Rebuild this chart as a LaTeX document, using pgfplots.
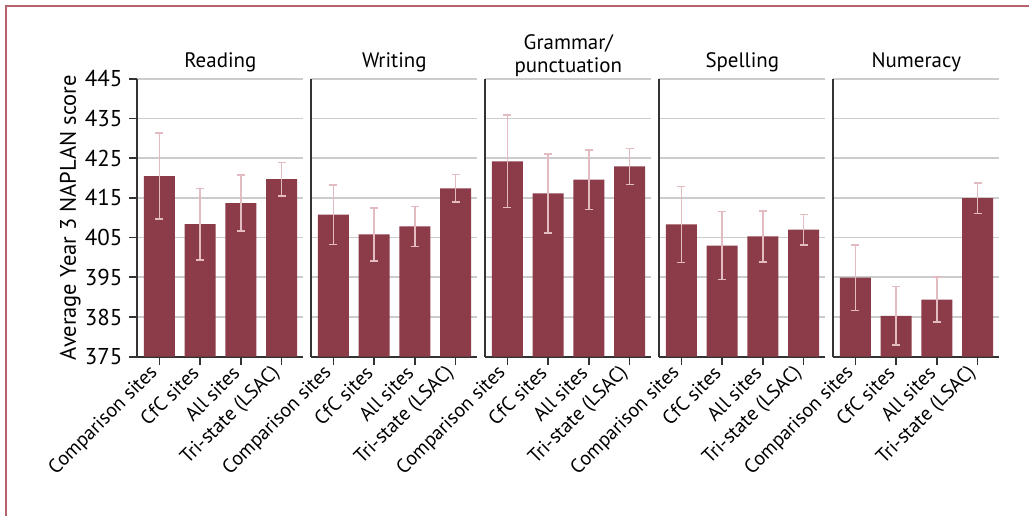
\documentclass[border=0pt]{standalone}
\usepackage{fontspec}
\setmainfont{PT Sans}
\usepackage{pgfplots}
\usepackage{pgfplotstable}
\pgfplotsset{compat=1.18}

\definecolor{barred}{RGB}{140,59,72}
\definecolor{errpink}{RGB}{226,188,192}
\definecolor{framered}{RGB}{181,100,110}

% x = category, y = mean, e = half width of interval
\pgfplotstableread{
x y e
0 420.5 10.8
1 408.4 9.0
2 413.7 7.0
3 419.7 4.2
}\reading
\pgfplotstableread{
x y e
0 410.8 7.5
1 405.8 6.7
2 407.8 5.0
3 417.4 3.5
}\writing
\pgfplotstableread{
x y e
0 424.2 11.6
1 416.1 10.0
2 419.6 7.5
3 422.9 4.5
}\grammar
\pgfplotstableread{
x y e
0 408.3 9.6
1 403.0 8.6
2 405.3 6.4
3 407.0 3.8
}\spelling
\pgfplotstableread{
x y e
0 394.9 8.3
1 385.3 7.4
2 389.4 5.6
3 414.9 3.8
}\numeracy

\pgfplotsset{
  panel/.style={
    scale only axis, width=83bp, height=139bp,
    anchor=south west,
    xmin=-0.545, xmax=3.535, ymin=375, ymax=445,
    ytick={375,385,...,445},
    xtick={0,1,2,3},
    xticklabels={Comparison sites, CfC sites, All sites, Tri-state (LSAC)},
    xticklabel style={rotate=45, anchor=east, font=\fontsize{10}{12}\selectfont},
    yticklabel style={font=\fontsize{11.5}{12}\selectfont},
    /pgf/number format/assume math mode=true,
    axis x line*=bottom, axis y line*=left,
    axis line style={draw=black!80, line width=0.9bp, -},
    ymajorgrids, grid style={black!20, line width=0.9bp},
    tick style={black!80, line width=0.8bp},
    tick align=outside, major tick length=4bp,
    ybar, bar width=15.5bp, bar shift=0pt,
    every axis title shift=0pt,
    title style={anchor=south, at={(0.5,1)}, yshift=3.35bp, inner sep=0pt,
      align=center, font=\fontsize{10.5}{11.5}\selectfont},
  },
  inner/.style={yticklabels={}, ytick style={draw=none}},
  bars/.style={fill=barred, draw=none,
    error bars/.cd, y dir=both, y explicit,
    error bar style={errpink, line width=0.8bp},
    error mark options={errpink, rotate=90, mark size=2bp, line width=0.8bp}},
}

\begin{document}
\begin{tikzpicture}
\begin{axis}[panel, at={(0,0)}, title={Reading},
  ylabel={Average Year 3 NAPLAN score},
  ylabel style={at={(axis description cs:-0.404,0.5)}, anchor=center,
    font=\fontsize{11.3}{12}\selectfont}]
  \addplot[bars] table[x=x, y=y, y error=e] {\reading};
\end{axis}
\begin{axis}[panel, inner, at={(87bp,0)}, title={Writing}]
  \addplot[bars] table[x=x, y=y, y error=e] {\writing};
\end{axis}
\begin{axis}[panel, inner, at={(174bp,0)}, title={Grammar/\\punctuation},
  title style={yshift=-2.5bp}]
  \addplot[bars] table[x=x, y=y, y error=e] {\grammar};
\end{axis}
\begin{axis}[panel, inner, at={(261bp,0)}, title={Spelling}]
  \addplot[bars] table[x=x, y=y, y error=e] {\spelling};
\end{axis}
\begin{axis}[panel, inner, at={(348bp,0)}, title={Numeracy}]
  \addplot[bars] table[x=x, y=y, y error=e] {\numeracy};
\end{axis}
\draw[framered, line width=1bp] (-65.4bp,-90bp) -- (-65.4bp,175.5bp) -- (460bp,175.5bp);
\pgfresetboundingbox
\useasboundingbox (-68.65bp,-79.65bp) rectangle (445.85bp,178.35bp);
\end{tikzpicture}
\end{document}
